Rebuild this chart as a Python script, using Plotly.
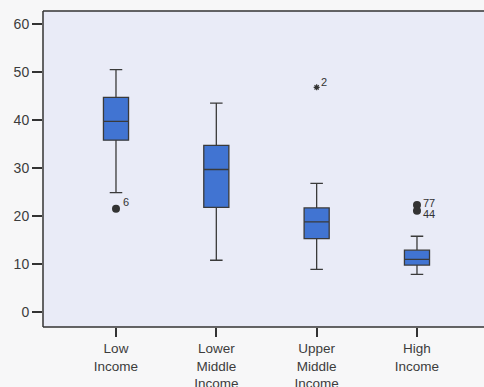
import plotly.graph_objects as go

categories = ["Low<br>Income", "Lower<br>Middle<br>Income", "Upper<br>Middle<br>Income", "High<br>Income"]
lower_whisker = [24.9, 10.8, 8.9, 7.85]
q1_vals = [35.8, 21.8, 15.3, 9.8]
medians = [39.7, 29.7, 18.8, 11.0]
q3_vals = [44.7, 34.7, 21.7, 12.9]
upper_whisker = [50.5, 43.5, 26.8, 15.8]

outlier_cat = [0, 3, 3]
outlier_vals = [21.5, 22.3, 21.1]
outlier_labels = ["6", "77", "44"]
extreme_cat = [2]
extreme_vals = [46.8]
extreme_labels = ["2"]

y_ticks = [0, 10, 20, 30, 40, 50, 60]

fig = go.Figure()
xs = list(range(len(categories)))
fig.add_trace(go.Box(
    x=xs, q1=q1_vals, median=medians, q3=q3_vals,
    lowerfence=lower_whisker, upperfence=upper_whisker,
    width=0.25, whiskerwidth=0.5,
    fillcolor="#4174d2", line=dict(color="#3a3a3a", width=1.3),
    boxpoints=False, showlegend=False, hoverinfo="skip",
))
fig.add_trace(go.Scatter(
    x=outlier_cat, y=outlier_vals, mode="markers",
    marker=dict(size=8, color="#333333"), showlegend=False, hoverinfo="skip",
))
fig.add_trace(go.Scatter(
    x=extreme_cat, y=extreme_vals, mode="markers",
    marker=dict(size=5, symbol="asterisk", color="#333333",
                line=dict(color="#333333", width=1.2)),
    showlegend=False, hoverinfo="skip",
))

label_font = dict(size=11, color="#333333", family="Liberation Sans, Arial")
annotations = []
shifts = [(5, 7), (4, 2), (4, -3)]
for c, v, t, (dx, dy) in zip(outlier_cat, outlier_vals, outlier_labels, shifts):
    annotations.append(dict(x=c, y=v, xref="x", yref="y", text=t, showarrow=False,
                            xanchor="left", yanchor="middle", xshift=dx, yshift=dy,
                            font=label_font))
for c, v, t in zip(extreme_cat, extreme_vals, extreme_labels):
    annotations.append(dict(x=c, y=v, xref="x", yref="y", text=t, showarrow=False,
                            xanchor="left", yanchor="middle", xshift=2, yshift=5,
                            font=label_font))

fig.update_layout(
    width=484, height=387,
    margin=dict(l=43, r=0, t=11, b=60, autoexpand=False),
    paper_bgcolor="#f7f7f8", plot_bgcolor="#e9ebf7",
    font=dict(family="Liberation Sans, Arial", size=13, color="#3c3c3c"),
    hovermode=False,
    xaxis=dict(range=[-0.7275, 3.668], tickvals=xs, ticktext=categories,
               showgrid=False, zeroline=False, ticks="outside", ticklen=9,
               tickcolor="#333333", tickwidth=1.5, showline=False,
               automargin=False, tickfont=dict(size=13.5)),
    yaxis=dict(range=[-3.1, 62.7], tickvals=y_ticks, showgrid=False,
               zeroline=False, ticks="outside", ticklen=10, tickcolor="#333333",
               tickwidth=1.5, showline=False, automargin=False,
               tickfont=dict(size=14)),
    annotations=annotations,
    shapes=[
        dict(type="line", xref="paper", yref="paper", x0=0, x1=0, y0=0, y1=1,
             line=dict(color="#333333", width=1.5)),
        dict(type="line", xref="paper", yref="paper", x0=0, x1=1, y0=0, y1=0,
             line=dict(color="#333333", width=1.5)),
        dict(type="line", xref="paper", yref="paper", x0=0, x1=1, y0=1, y1=1,
             line=dict(color="#333333", width=1.5)),
    ],
)
fig.write_html(
    "out.html",
    config={"displayModeBar": False},
    post_script="document.body.style.margin='0';document.body.style.overflow='hidden';",
)
